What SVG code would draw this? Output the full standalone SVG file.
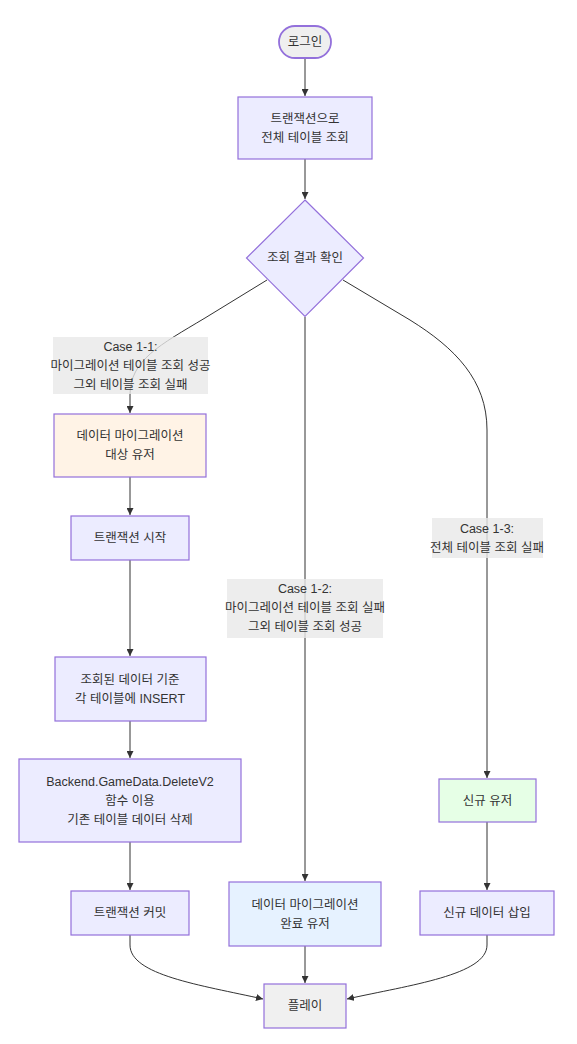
<svg xmlns="http://www.w3.org/2000/svg" width="577" height="1044" viewBox="0 0 577 1044">
<style>
text{font-family:"Liberation Sans","Noto Sans CJK KR",sans-serif;font-size:12.5px;fill:#333;text-anchor:middle;dominant-baseline:central}
.n{fill:#ECECFF;stroke:#9370DB;stroke-width:1.2}
.e{fill:none;stroke:#333;stroke-width:1}
.lb{fill:rgba(232,232,232,0.8)}
</style>
<defs>
<marker id="a" viewBox="0 0 10 10" refX="10" refY="5" markerUnits="userSpaceOnUse" markerWidth="7" markerHeight="7" orient="auto">
<path d="M0,0 L10,5 L0,10 z" fill="#333"/>
</marker>
</defs>
<g id="edges">
<path class="e" d="M305,58 L305,96" marker-end="url(#a)"/>
<path class="e" d="M305,159 L305,199" marker-end="url(#a)"/>
<path class="e" d="M267,280 L205,318 C160,345 130,360 130,395 L130,413" marker-end="url(#a)"/>
<path class="e" d="M130,477 L130,515" marker-end="url(#a)"/>
<path class="e" d="M130,560 L130,656" marker-end="url(#a)"/>
<path class="e" d="M130,721 L130,758" marker-end="url(#a)"/>
<path class="e" d="M130,842 L130,890" marker-end="url(#a)"/>
<path class="e" d="M305,317 L305,881" marker-end="url(#a)"/>
<path class="e" d="M343,280 L410,320 C455,348 487,380 487,430 L487,778" marker-end="url(#a)"/>
<path class="e" d="M487,822 L487,890" marker-end="url(#a)"/>
<path class="e" d="M130,935 L130,945 C130,975 200,985 263,999" marker-end="url(#a)"/>
<path class="e" d="M305,946 L305,983" marker-end="url(#a)"/>
<path class="e" d="M487,935 L487,945 C487,975 410,985 347,999" marker-end="url(#a)"/>
</g>
<g id="label-1-1">
<rect class="lb" x="53" y="337" width="155" height="57"/>
<text x="130.5" y="346.5">Case 1-1:</text>
<text x="130.5" y="365.5">마이그레이션 테이블 조회 성공</text>
<text x="130.5" y="384.5">그외 테이블 조회 실패</text>
</g>
<g id="label-1-2">
<rect class="lb" x="227" y="579" width="156" height="59"/>
<text x="305" y="589">Case 1-2:</text>
<text x="305" y="608">마이그레이션 테이블 조회 실패</text>
<text x="305" y="627">그외 테이블 조회 성공</text>
</g>
<g id="label-1-3">
<rect class="lb" x="432" y="518" width="111" height="40"/>
<text x="487" y="528.5">Case 1-3:</text>
<text x="487" y="547.5">전체 테이블 조회 실패</text>
</g>
<g id="login">
<rect x="279" y="26" width="52" height="32" rx="16" fill="#EFEFEF" stroke="#9370DB" stroke-width="1.8"/>
<text x="305" y="42">로그인</text>
</g>
<g id="query-all">
<rect class="n" x="238" y="97" width="134" height="62"/>
<text x="305" y="118.5">트랜잭션으로</text>
<text x="305" y="137.5">전체 테이블 조회</text>
</g>
<g id="check">
<polygon class="n" points="305,200 363.5,258 305,316.5 246.5,258"/>
<text x="305" y="258">조회 결과 확인</text>
</g>
<g id="migrate-target">
<rect x="54" y="414" width="152" height="63" fill="#FFF3E6" stroke="#9370DB" stroke-width="1.2"/>
<text x="130" y="436">데이터 마이그레이션</text>
<text x="130" y="455">대상 유저</text>
</g>
<g id="tx-start">
<rect class="n" x="71" y="516" width="118" height="44"/>
<text x="130" y="538">트랜잭션 시작</text>
</g>
<g id="insert">
<rect class="n" x="55" y="657" width="151" height="64"/>
<text x="130" y="679.5">조회된 데이터 기준</text>
<text x="130" y="698.5">각 테이블에 INSERT</text>
</g>
<g id="delete">
<rect class="n" x="19" y="759" width="222" height="83"/>
<text x="130" y="781.5">Backend.GameData.DeleteV2</text>
<text x="130" y="800.5">함수 이용</text>
<text x="130" y="819.5">기존 테이블 데이터 삭제</text>
</g>
<g id="tx-commit">
<rect class="n" x="71" y="891" width="118" height="44"/>
<text x="130" y="913">트랜잭션 커밋</text>
</g>
<g id="migrated">
<rect x="229" y="882" width="152" height="64" fill="#E6F2FF" stroke="#9370DB" stroke-width="1.2"/>
<text x="305" y="904.5">데이터 마이그레이션</text>
<text x="305" y="923.5">완료 유저</text>
</g>
<g id="new-user">
<rect x="439" y="779" width="97" height="43" fill="#E6FFE6" stroke="#9370DB" stroke-width="1.2"/>
<text x="487.5" y="800.5">신규 유저</text>
</g>
<g id="new-insert">
<rect class="n" x="420" y="891" width="134" height="44"/>
<text x="487" y="913">신규 데이터 삽입</text>
</g>
<g id="play">
<rect x="264" y="984" width="82" height="44" fill="#F0F0F0" stroke="#9370DB" stroke-width="1.2"/>
<text x="305" y="1006">플레이</text>
</g>
</svg>
